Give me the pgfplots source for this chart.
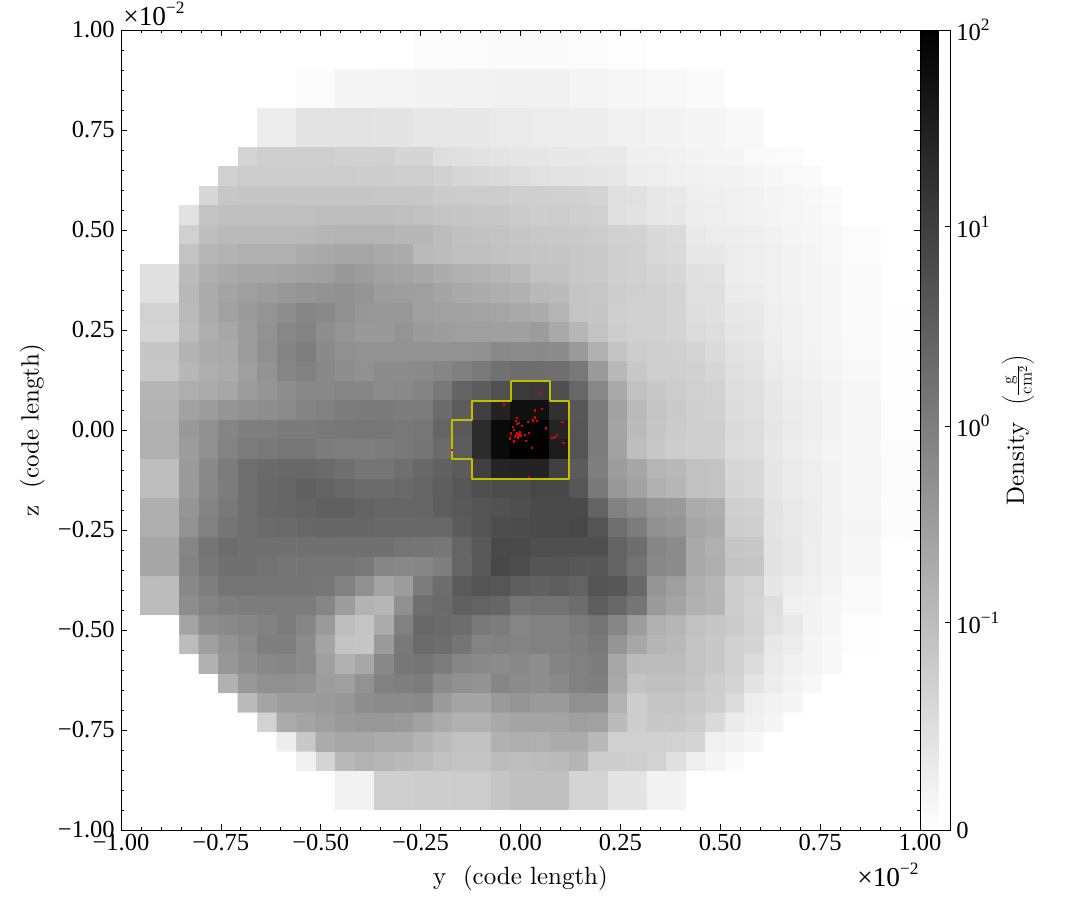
\documentclass[border=0pt]{standalone}
\usepackage{fontspec}
\usepackage{pgfplots}
\pgfplotsset{compat=1.18}
\newfontfamily\tickfamily{Liberation Serif}
\newfontfamily\labelfamily[OpticalSize=10]{Latin Modern Roman}
\newcommand\labelfont{\labelfamily\fontsize{18.7}{22}\selectfont}
\newcommand\tickfont{\tickfamily\fontsize{18.4}{20}\selectfont}
\newcommand\expfont{\tickfamily\fontsize{20.5}{22}\selectfont}
\newcommand\sups[1]{\raisebox{0.42em}{\fontsize{13}{13}\selectfont #1}}
\definecolor{contour}{rgb}{0.75,0.75,0}
\begin{document}
\begin{tikzpicture}[x=0.75pt,y=0.75pt]
\path[use as bounding box] (0,0) rectangle (1085,920);
\begin{axis}[
  at={(90.75pt,67.5pt)}, anchor=south west,
  scale only axis, width=599.25pt, height=600pt,
  xmin=-1, xmax=1, ymin=-1, ymax=1,
  axis on top,
  axis line style={line width=0.65pt},
  tick style={color=black,line width=0.55pt},
  tick align=inside,
  major tick length=4.5pt, minor tick length=2.4pt,
  xtick={-1,-0.75,-0.5,-0.25,0,0.25,0.5,0.75,1},
  ytick={-1,-0.75,-0.5,-0.25,0,0.25,0.5,0.75,1},
  xticklabels={−1.00,−0.75,−0.50,−0.25,0.00,0.25,0.50,0.75,1.00},
  yticklabels={−1.00,−0.75,−0.50,−0.25,0.00,0.25,0.50,0.75,1.00},
  minor tick num=4,
  xticklabel style={font=\tickfont,inner sep=0pt,yshift=-3pt},
  yticklabel style={font=\tickfont,inner sep=0pt,xshift=-4.5pt},
  every axis x label/.style={at={(axis description cs:0.5,-0.06)},anchor=center},
  every axis y label/.style={at={(axis description cs:-0.111,0.5)},anchor=center,rotate=90},
  label style={font=\labelfont},
  xlabel={y\ \ (code length)},
  ylabel={z\ \ (code length)},
  colormap={grayrev}{gray(0cm)=(1); gray(1cm)=(0)},
  point meta min=0, point meta max=1,
  colorbar,
  colorbar style={
    at={(1,1)}, anchor=north west, xshift=0pt,
    scale only axis, width=22.5pt, height=600pt,
    ytick={0,0.259,0.505,0.754,1},
    yticklabels={0,10\sups{−1},10\sups{0},10\sups{1},10\sups{2}},
    yticklabel pos=right, ytick pos=right,
    tick align=inside, major tick length=3.5pt,
    tick style={color=black,line width=0.55pt},
    axis line style={line width=0.65pt},
    yticklabel style={font=\tickfont,inner sep=0pt,xshift=4.5pt},
  },
]
\addplot[matrix plot*, mesh/cols=41, point meta={1-\thisrow{g}/255}]
 table[row sep=crcr, x expr={mod(\coordindex,41)*2/41-1+1/41}, y expr={1-1/41-2*floor((\coordindex+0.5)/41)/41}] {
g\\
255\\255\\255\\255\\255\\255\\255\\255\\255\\255\\255\\255\\255\\255\\255\\252\\252\\251\\251\\250\\250\\250\\250\\251\\251\\253\\253\\255\\255\\255\\255\\255\\255\\255\\255\\255\\255\\255\\255\\255\\255\\
255\\255\\255\\255\\255\\255\\255\\255\\255\\255\\255\\255\\255\\255\\255\\252\\252\\251\\251\\250\\250\\250\\250\\251\\251\\253\\253\\255\\255\\255\\255\\255\\255\\255\\255\\255\\255\\255\\255\\255\\255\\
255\\255\\255\\255\\255\\255\\255\\255\\255\\251\\251\\245\\245\\244\\244\\243\\243\\242\\242\\241\\241\\241\\241\\244\\244\\246\\246\\248\\248\\250\\250\\255\\255\\255\\255\\255\\255\\255\\255\\255\\255\\
255\\255\\255\\255\\255\\255\\255\\255\\255\\251\\251\\245\\245\\244\\244\\243\\243\\242\\242\\241\\241\\241\\241\\244\\244\\246\\246\\248\\248\\250\\250\\255\\255\\255\\255\\255\\255\\255\\255\\255\\255\\
255\\255\\255\\255\\255\\255\\255\\237\\237\\227\\227\\227\\227\\228\\228\\231\\231\\232\\232\\234\\234\\236\\236\\237\\237\\241\\241\\243\\243\\245\\245\\248\\248\\255\\255\\255\\255\\255\\255\\255\\255\\
255\\255\\255\\255\\255\\255\\255\\237\\237\\227\\227\\227\\227\\228\\228\\231\\231\\232\\232\\234\\234\\236\\236\\237\\237\\241\\241\\243\\243\\245\\245\\248\\248\\255\\255\\255\\255\\255\\255\\255\\255\\
255\\255\\255\\255\\255\\255\\212\\207\\207\\206\\206\\209\\209\\208\\213\\213\\222\\224\\226\\228\\230\\230\\232\\232\\233\\233\\239\\240\\241\\243\\244\\245\\249\\250\\251\\255\\255\\255\\255\\255\\255\\
255\\255\\255\\255\\255\\209\\204\\204\\204\\204\\204\\204\\205\\205\\206\\206\\209\\214\\216\\218\\222\\225\\227\\228\\230\\231\\237\\238\\240\\241\\242\\243\\245\\247\\249\\250\\255\\255\\255\\255\\255\\
255\\255\\255\\255\\215\\199\\198\\198\\198\\198\\198\\198\\198\\199\\199\\200\\203\\204\\205\\205\\207\\207\\208\\209\\212\\223\\225\\231\\233\\238\\239\\240\\242\\245\\246\\248\\250\\255\\255\\255\\255\\
255\\255\\255\\226\\195\\192\\192\\192\\192\\191\\190\\190\\190\\190\\191\\193\\197\\198\\199\\200\\203\\205\\204\\207\\209\\224\\226\\231\\232\\237\\238\\240\\242\\244\\246\\247\\249\\255\\255\\255\\255\\
255\\255\\255\\208\\190\\186\\186\\186\\186\\185\\183\\181\\181\\181\\184\\184\\188\\192\\194\\196\\198\\200\\201\\202\\204\\209\\210\\217\\219\\233\\236\\237\\239\\241\\244\\246\\248\\251\\251\\255\\255\\
255\\255\\255\\196\\183\\180\\177\\177\\177\\172\\170\\167\\167\\170\\172\\186\\188\\191\\192\\194\\196\\197\\198\\200\\202\\207\\209\\217\\218\\231\\232\\236\\238\\240\\243\\245\\248\\251\\251\\255\\255\\
255\\224\\224\\187\\176\\170\\167\\167\\165\\162\\160\\154\\157\\163\\165\\169\\173\\177\\180\\183\\186\\193\\193\\200\\202\\207\\209\\212\\215\\224\\225\\237\\238\\240\\243\\245\\247\\250\\250\\255\\255\\
255\\224\\224\\185\\172\\165\\160\\157\\153\\150\\148\\146\\150\\158\\159\\160\\165\\170\\173\\176\\178\\185\\187\\197\\199\\205\\207\\209\\212\\223\\224\\235\\236\\240\\243\\245\\247\\250\\250\\255\\255\\
255\\210\\210\\186\\172\\162\\156\\149\\143\\135\\138\\145\\152\\153\\153\\160\\162\\163\\164\\166\\170\\173\\181\\197\\198\\207\\209\\209\\212\\222\\224\\232\\233\\239\\241\\244\\247\\250\\250\\254\\254\\
255\\212\\212\\188\\175\\168\\157\\147\\137\\132\\143\\149\\154\\154\\149\\156\\158\\160\\160\\161\\161\\157\\170\\183\\195\\205\\208\\209\\212\\219\\222\\229\\232\\238\\241\\244\\247\\250\\250\\254\\254\\
255\\198\\198\\180\\172\\170\\157\\145\\133\\127\\139\\145\\147\\147\\147\\148\\148\\147\\145\\138\\140\\139\\141\\155\\177\\196\\205\\207\\208\\212\\218\\226\\229\\237\\240\\243\\246\\249\\249\\254\\254\\
255\\199\\199\\184\\175\\172\\160\\148\\135\\130\\137\\143\\146\\140\\140\\139\\135\\129\\123\\114\\110\\111\\112\\121\\155\\185\\200\\206\\207\\209\\214\\223\\227\\235\\238\\241\\244\\248\\248\\254\\254\\
255\\182\\182\\175\\172\\168\\157\\150\\143\\137\\137\\134\\135\\140\\138\\133\\122\\101\\94\\82\\60\\58\\80\\104\\136\\170\\193\\200\\204\\208\\210\\222\\224\\232\\236\\239\\243\\247\\247\\254\\254\\
255\\180\\180\\163\\158\\150\\146\\143\\140\\133\\130\\125\\124\\124\\126\\125\\108\\93\\65\\37\\18\\18\\50\\88\\125\\163\\186\\197\\202\\207\\208\\220\\223\\231\\235\\238\\242\\246\\246\\253\\253\\
255\\177\\177\\154\\145\\134\\128\\127\\124\\124\\121\\120\\119\\120\\121\\119\\102\\90\\45\\12\\3\\3\\38\\87\\125\\165\\187\\198\\203\\207\\207\\218\\221\\230\\234\\238\\242\\246\\246\\253\\253\\
255\\177\\177\\158\\145\\132\\125\\122\\120\\120\\125\\127\\127\\125\\122\\118\\108\\93\\45\\12\\3\\3\\30\\85\\125\\163\\190\\200\\205\\207\\207\\220\\222\\232\\236\\240\\244\\247\\247\\252\\252\\
255\\190\\190\\155\\138\\125\\112\\107\\105\\105\\108\\113\\118\\118\\112\\105\\98\\92\\65\\38\\37\\37\\65\\92\\127\\158\\167\\183\\185\\193\\195\\214\\216\\230\\235\\238\\243\\247\\247\\251\\251\\
255\\190\\190\\155\\137\\125\\112\\105\\102\\97\\100\\105\\108\\108\\106\\102\\95\\88\\80\\77\\77\\72\\72\\87\\122\\153\\163\\178\\183\\193\\195\\213\\216\\230\\235\\238\\242\\247\\247\\251\\251\\
255\\176\\176\\150\\133\\122\\112\\105\\103\\100\\97\\97\\100\\103\\103\\102\\95\\90\\85\\83\\80\\75\\75\\75\\100\\130\\140\\153\\155\\172\\175\\207\\209\\227\\233\\237\\242\\246\\246\\252\\252\\
255\\176\\176\\147\\130\\118\\112\\108\\106\\105\\103\\103\\103\\105\\105\\105\\105\\92\\85\\78\\77\\75\\75\\72\\85\\112\\125\\145\\150\\167\\172\\205\\207\\228\\233\\237\\242\\245\\245\\251\\251\\
255\\167\\167\\135\\118\\110\\113\\113\\113\\113\\113\\113\\113\\113\\117\\118\\120\\102\\90\\74\\75\\80\\80\\80\\80\\100\\110\\135\\140\\170\\177\\198\\200\\226\\232\\238\\243\\246\\246\\255\\255\\
255\\167\\167\\132\\120\\113\\113\\115\\118\\118\\118\\118\\122\\135\\137\\135\\127\\102\\90\\72\\78\\85\\85\\88\\88\\100\\115\\137\\140\\170\\175\\195\\198\\226\\232\\238\\243\\246\\246\\255\\255\\
255\\188\\188\\137\\127\\117\\117\\118\\118\\118\\120\\130\\145\\165\\158\\125\\110\\92\\85\\87\\95\\98\\95\\100\\85\\88\\105\\150\\160\\175\\183\\205\\210\\230\\237\\240\\245\\250\\250\\255\\255\\
255\\188\\188\\142\\132\\127\\125\\125\\125\\125\\135\\158\\180\\183\\145\\112\\108\\97\\100\\103\\118\\115\\115\\110\\95\\105\\118\\155\\165\\178\\182\\205\\212\\222\\240\\242\\247\\250\\250\\255\\255\\
255\\255\\255\\165\\142\\138\\135\\130\\125\\135\\155\\190\\197\\172\\130\\105\\107\\110\\122\\125\\135\\130\\130\\125\\118\\135\\158\\178\\183\\193\\198\\203\\210\\225\\233\\243\\247\\253\\253\\255\\255\\
255\\255\\255\\188\\160\\148\\140\\128\\128\\140\\165\\195\\197\\155\\122\\108\\110\\118\\132\\130\\133\\130\\130\\128\\122\\150\\168\\182\\185\\195\\200\\208\\213\\232\\236\\244\\248\\253\\253\\255\\255\\
255\\255\\255\\255\\178\\152\\143\\137\\135\\140\\160\\178\\168\\137\\120\\118\\125\\135\\138\\140\\137\\143\\133\\130\\125\\168\\187\\188\\188\\195\\200\\208\\220\\235\\240\\244\\248\\255\\255\\255\\255\\
255\\255\\255\\255\\255\\178\\153\\145\\145\\147\\158\\160\\147\\130\\128\\125\\140\\145\\148\\135\\140\\143\\138\\130\\128\\170\\195\\192\\192\\197\\205\\212\\228\\237\\243\\248\\255\\255\\255\\255\\255\\
255\\255\\255\\255\\255\\255\\187\\165\\158\\158\\155\\152\\143\\140\\140\\138\\155\\165\\165\\155\\150\\155\\155\\145\\145\\180\\205\\197\\197\\202\\206\\220\\238\\242\\245\\255\\255\\255\\255\\255\\255\\
255\\255\\255\\255\\255\\255\\255\\210\\172\\165\\160\\155\\153\\153\\155\\163\\172\\178\\178\\170\\165\\165\\165\\160\\162\\187\\205\\200\\200\\205\\218\\235\\240\\245\\255\\255\\255\\255\\255\\255\\255\\
255\\255\\255\\255\\255\\255\\255\\255\\237\\200\\172\\168\\168\\172\\172\\180\\187\\193\\193\\178\\175\\177\\172\\172\\185\\208\\208\\208\\210\\212\\240\\243\\247\\255\\255\\255\\255\\255\\255\\255\\255\\
255\\255\\255\\255\\255\\255\\255\\255\\255\\240\\212\\185\\180\\183\\185\\188\\193\\196\\196\\188\\190\\188\\186\\182\\205\\205\\207\\210\\224\\238\\244\\250\\255\\255\\255\\255\\255\\255\\255\\255\\255\\
255\\255\\255\\255\\255\\255\\255\\255\\255\\255\\255\\242\\242\\207\\207\\205\\205\\204\\204\\197\\192\\192\\192\\212\\212\\228\\228\\243\\243\\255\\255\\255\\255\\255\\255\\255\\255\\255\\255\\255\\255\\
255\\255\\255\\255\\255\\255\\255\\255\\255\\255\\255\\242\\242\\207\\207\\205\\205\\204\\204\\197\\192\\192\\192\\212\\212\\228\\228\\243\\243\\255\\255\\255\\255\\255\\255\\255\\255\\255\\255\\255\\255\\
255\\255\\255\\255\\255\\255\\255\\255\\255\\255\\255\\255\\255\\255\\255\\255\\255\\255\\255\\255\\255\\255\\255\\255\\255\\255\\255\\255\\255\\255\\255\\255\\255\\255\\255\\255\\255\\255\\255\\255\\255\\
};
\addplot[contour, line width=1.7pt, line join=round] coordinates {
(-0.0244,0.1220)(0.0732,0.1220)(0.0732,0.0732)(0.1220,0.0732)(0.1220,-0.1220)(-0.1220,-0.1220)(-0.1220,-0.0732)(-0.1707,-0.0732)(-0.1707,0.0244)(-0.1220,0.0244)(-0.1220,0.0732)(-0.0244,0.0732)(-0.0244,0.1220)
};
\addplot[only marks, mark=square*, mark size=0.42pt, color=red!90!black, mark options={draw=none}] coordinates {
(-0.00125,-0.005)(-0.0079,-0.01)(-0.0046,-0.015)(-0.01125,-0.0133)(-0.00625,-0.0183)(-0.01375,-0.0167)(-0.0104,-0.0067)(-0.00125,-0.01)(0.00125,-0.015)
(0.0471,0.0925)(-0.04125,0.0642)(0.0354,0.0492)(0.0529,0.0525)(-0.00875,0.0308)(0.03625,0.0317)(-0.0054,0.0183)(-0.00875,0.0158)(-0.0121,0.0233)(0.03125,0.0242)(0.0404,0.0233)(0.0171,0.02)(0.0029,0.01)(-0.0204,0.0075)(-0.0179,0)(-0.0246,-0.0083)(-0.0279,-0.0208)(-0.0171,-0.0283)(0.0096,-0.0117)(0.0204,-0.0067)(0.0129,-0.0267)(0.0637,0.0042)(0.1046,0.02)(0.0912,-0.0117)(0.08625,-0.0175)(0.0796,-0.0192)(0.1071,-0.0317)(0.0271,-0.0442)(0.02125,-0.1175)(-0.17125,-0.05)
};
\end{axis}
\node[font=\expfont,anchor=center] at (888,45) {×10\sups{−2}};
\node[font=\expfont,anchor=center] at (154,906) {×10\sups{−2}};
\node[font=\labelfont,rotate=90,anchor=center] at (1018,490) {Density\ \ $\left(\frac{\mathrm{g}}{\mathrm{cm}^2}\right)$};
\end{tikzpicture}
\end{document}
